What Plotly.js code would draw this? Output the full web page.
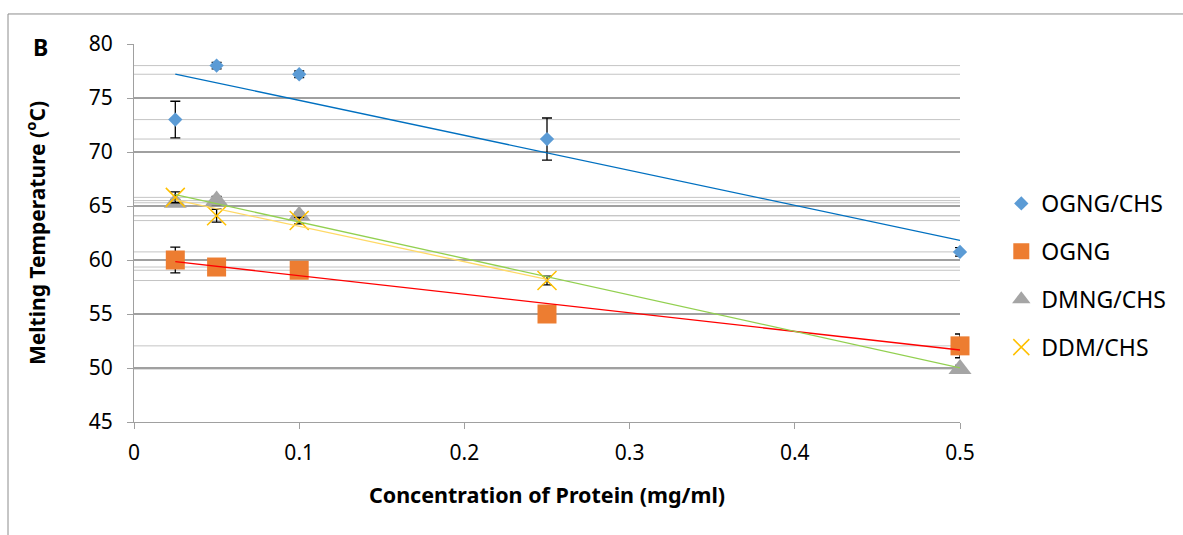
<!DOCTYPE html>
<html>
<head>
<meta charset="utf-8">
<script src="https://cdn.plot.ly/plotly-3.0.1.min.js"></script>
<style>html,body{margin:0;padding:0;background:#fff;}#chart{width:1183px;height:535px;}</style>
</head>
<body>
<div id="chart"></div>
<script>
// ---- data ----
var seriesNames = ["OGNG/CHS", "OGNG", "DMNG/CHS", "DDM/CHS"];
var ogngChsX = [0.025, 0.05, 0.1, 0.25, 0.5];
var ogngChsY = [73.0, 78.0, 77.2, 71.2, 60.75];
var ogngChsErr = [1.7, 0.3, 0.3, 1.95, 0.4];
var ogngX = [0.025, 0.05, 0.1, 0.25, 0.5];
var ogngY = [60.0, 59.35, 59.05, 55.0, 52.05];
var ogngErr = [1.2, 0.3, 0.3, 0.3, 1.1];
var dmngChsX = [0.025, 0.05, 0.1, 0.5];
var dmngChsY = [65.3, 65.5, 64.1, 49.9];
var dmngChsErr = [0.3, 0.4, 0.3, 0.35];
var ddmChsX = [0.025, 0.05, 0.1, 0.25];
var ddmChsY = [65.8, 64.1, 63.65, 58.1];
var ddmChsErr = [0.5, 0.6, 0.3, 0.4];
var yTickVals = [45, 50, 55, 60, 65, 70, 75, 80];
var xTickVals = [0, 0.1, 0.2, 0.3, 0.4, 0.5];
var xTickText = ["0", "0.1", "0.2", "0.3", "0.4", "0.5"];

var FONT = "Noto Sans, Open Sans, sans-serif";

function fit(xs, ys) {
  var n = xs.length, mx = 0, my = 0;
  for (var i = 0; i < n; i++) { mx += xs[i]; my += ys[i]; }
  mx /= n; my /= n;
  var sxx = 0, sxy = 0;
  for (var j = 0; j < n; j++) { sxx += (xs[j]-mx)*(xs[j]-mx); sxy += (xs[j]-mx)*(ys[j]-my); }
  var b = sxy / sxx, a = my - b * mx;
  var x0 = Math.min.apply(null, xs), x1 = Math.max.apply(null, xs);
  return {x: [x0, x1], y: [a + b*x0, a + b*x1]};
}

var defs = [
  {name: seriesNames[0], x: ogngChsX, y: ogngChsY, e: ogngChsErr,
   marker: {symbol: "diamond", size: 11, color: "#5B9BD5"}, trend: "#0070C0"},
  {name: seriesNames[1], x: ogngX, y: ogngY, e: ogngErr,
   marker: {symbol: "square", size: 19, color: "#ED7D31"}, trend: "#FF0000"},
  {name: seriesNames[2], x: dmngChsX, y: dmngChsY, e: dmngChsErr,
   marker: {symbol: "triangle-up", size: 20, color: "#A5A5A5"}, trend: "#92D050"},
  {name: seriesNames[3], x: ddmChsX, y: ddmChsY, e: ddmChsErr,
   marker: {symbol: "x-thin-open", size: 19, color: "#FFC000", line: {width: 1.5, color: "#FFC000"}}, trend: "#FFD966"}
];

var traces = [];
var shapes = [];
// horizontal reference lines at each data value
defs.forEach(function(d) {
  d.y.forEach(function(v) {
    shapes.push({type: "line", xref: "paper", x0: 0, x1: 1, yref: "y", y0: v, y1: v,
      line: {color: "#C4C4C4", width: 1}, layer: "below"});
  });
});
defs.forEach(function(d, i) {
  traces.push({
    type: "scatter", mode: "markers", name: d.name, x: d.x, y: d.y,
    marker: d.marker, legendgroup: "g" + i,
    error_y: {type: "data", array: d.e, visible: true, color: "#000000", thickness: 1.3, width: 5},
    cliponaxis: false
  });
});
defs.forEach(function(d, i) {
  var t = fit(d.x, d.y);
  traces.push({type: "scatter", mode: "lines", x: t.x, y: t.y, showlegend: false,
    hoverinfo: "skip", line: {color: d.trend, width: 1.3}});
});

// outer chart border
shapes.push({type: "rect", xref: "paper", yref: "paper",
  x0: (8-134)/826, x1: 1.5, y0: -1, y1: (421.7-14)/377.7,
  line: {color: "#8C8C8C", width: 1}, fillcolor: "rgba(0,0,0,0)", layer: "below"});

var layout = {
  width: 1183, height: 535,
  margin: {l: 134, r: 223, t: 44, b: 113.3, pad: 0},
  paper_bgcolor: "#ffffff", plot_bgcolor: "#ffffff",
  showlegend: true,
  font: {family: FONT, color: "#000000"},
  xaxis: {
    range: [0, 0.5], tickvals: xTickVals, ticktext: xTickText,
    showgrid: false, zeroline: false, showline: true, linecolor: "#A0A0A0", linewidth: 1,
    ticks: "outside", ticklen: 6, tickcolor: "#A0A0A0", tickwidth: 1,
    tickfont: {family: FONT, size: 21, color: "#000"}, ticklabelstandoff: 6,
    title: {text: "<b>Concentration of Protein (mg/ml)</b>", font: {family: FONT, size: 21.5, color: "#000"}, standoff: 22}
  },
  yaxis: {
    range: [45, 80], tickvals: yTickVals,
    showgrid: true, gridcolor: "#A0A0A0", gridwidth: 2, zeroline: false,
    showline: true, linecolor: "#A0A0A0", linewidth: 1,
    ticks: "outside", ticklen: 6, tickcolor: "#A0A0A0", tickwidth: 1,
    tickfont: {family: FONT, size: 21, color: "#000"}, ticklabelstandoff: 10,
    title: {text: "<b>Melting Temperature (<sup>o</sup>C)</b>", font: {family: FONT, size: 21, color: "#000"}, standoff: 37}
  },
  legend: {
    x: 1.05, xanchor: "left", y: 0.635, yanchor: "top",
    font: {family: FONT, size: 23, color: "#000"},
    tracegroupgap: 15, itemwidth: 30, bgcolor: "rgba(0,0,0,0)"
  },
  shapes: shapes,
  annotations: [
    {text: "<b>B</b>", xref: "paper", yref: "paper", x: (40-134)/826, y: (421.7-47)/377.7,
     xanchor: "center", yanchor: "middle", showarrow: false, font: {family: FONT, size: 23, color: "#000"}}
  ]
};

Plotly.newPlot("chart", traces, layout, {displayModeBar: false, staticPlot: true});
</script>
</body>
</html>
